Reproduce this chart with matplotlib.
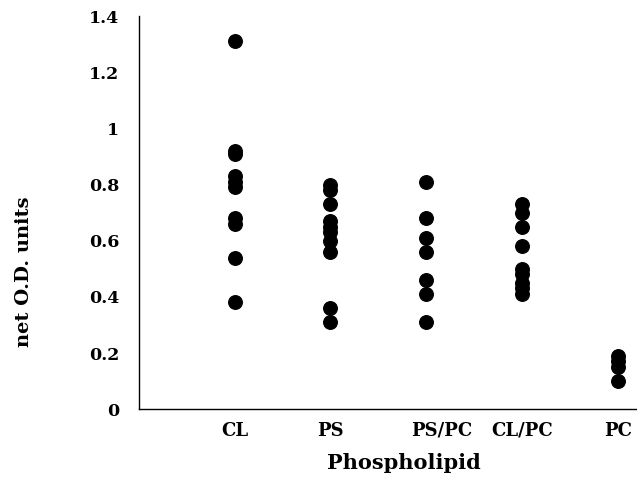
import matplotlib.pyplot as plt
from matplotlib.transforms import ScaledTranslation

categorias = ['CL', 'PS', 'PS/PC', 'CL/PC', 'PC']
cl = [1.31, 0.92, 0.91, 0.83, 0.81, 0.79, 0.68, 0.66, 0.54, 0.38]
ps = [0.80, 0.78, 0.73, 0.67, 0.65, 0.63, 0.60, 0.56, 0.36, 0.31]
ps_pc = [0.81, 0.68, 0.61, 0.56, 0.46, 0.41, 0.31]
cl_pc = [0.73, 0.70, 0.65, 0.58, 0.50, 0.48, 0.45, 0.43, 0.41]
pc = [0.19, 0.17, 0.15, 0.10]
yticks = [0, 0.2, 0.4, 0.6, 0.8, 1, 1.2, 1.4]
ytick_labels = ['0', '0.2', '0.4', '0.6', '0.8', '1', '1.2', '1.4']

plt.rcParams['font.family'] = ['DejaVu Serif']
plt.rcParams['font.weight'] = 'bold'

fig = plt.figure(figsize=(6.37, 4.86), dpi=100)
ax = fig.add_axes([0.218, 0.158, 0.782, 0.809])

series = [cl, ps, ps_pc, cl_pc, pc]
for i, valores in enumerate(series):
    ax.scatter([i + 1] * len(valores), valores, s=95, color='black', zorder=3)

ax.set_xlim(0, 5.2)
ax.set_ylim(0, 1.4)
ax.set_xticks(range(1, 6))
ax.set_xticklabels(categorias, fontsize=13, fontweight='bold')
ax.set_yticks(yticks)
ax.set_yticklabels(ytick_labels, fontsize=12.5, fontweight='bold')
ax.tick_params(axis='both', length=0)
ax.tick_params(axis='x', pad=9)
ax.tick_params(axis='y', pad=14)
ax.spines['top'].set_visible(False)
ax.spines['right'].set_visible(False)
ax.spines['left'].set_linewidth(1.0)
ax.spines['bottom'].set_linewidth(1.0)

# en el original la etiqueta PS/PC esta algo corrida a la derecha
for lbl in ax.get_xticklabels():
    if lbl.get_text() == 'PS/PC':
        lbl.set_transform(lbl.get_transform() + ScaledTranslation(0.15, 0, fig.dpi_scale_trans))

ax.set_xlabel('Phospholipid', fontsize=15, fontweight='bold')
ax.xaxis.set_label_coords(0.532, -0.112)
ax.set_ylabel('net O.D. units', fontsize=14, fontweight='bold')
ax.yaxis.set_label_coords(-0.213, 0.349)

fig.savefig('out.png', dpi=100)
